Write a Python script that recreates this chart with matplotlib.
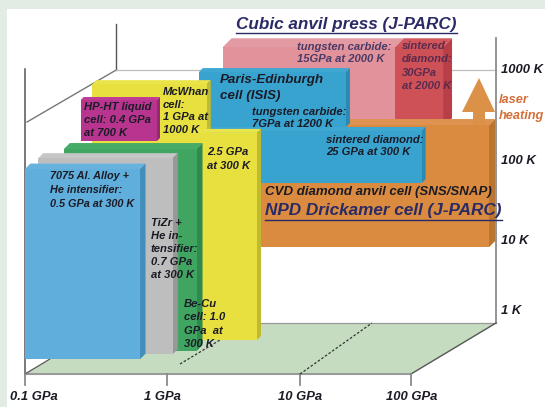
import numpy as np
import matplotlib
matplotlib.use("Agg")
import matplotlib.pyplot as plt
from matplotlib.patches import Polygon, Rectangle

# ---------- values ----------
pressure_ticks = [0.1, 1, 10, 100]
pressure_labels = ["0.1 GPa", "1 GPa", "10 GPa", "100 GPa"]
temperature_ticks = [1, 10, 100, 1000]
temperature_labels = ["1 K", "10 K", "100 K", "1000 K"]

cell_names = ["pink_wc", "red_sd", "orange_cvd", "blue_sd", "blue_pe", "yellow_mcwhan",
              "magenta_hpht", "yellow_becu", "green_becu", "gray_tizr", "blue_7075"]
p_low = [0.665, 13.5, 0.88, 0.507, 0.52, 0.099, 0.094, 0.578, 0.101, 0.0724, 0.0669]
p_high = [13.5, 36.4, 94.5, 26.4, 6.34, 0.633, 0.324, 1.78, 0.868, 0.642, 0.433]
t_low = [226, 226, 8.5, 54, 260, 1, 219, 1, 1, 1, 1]
t_high = [2000, 2000, 239, 224, 1168, 900, 671, 286, 249, 211, 180]

# ---------- layout and style ----------
depths = [0.95, 0.95, 0.95, 0.88, 0.85, 0.80, 0.70, 0.667, 0.45, 0.39, 0.29]
thick = [9, 9, 6, 4, 4, 4, 3, 4, 6, 5, 5.5]
face = ["#E1929B", "#CE5158", "#DA8B3F", "#38A3CF", "#38A3CF", "#E7E03E", "#B7358E",
        "#E7E03E", "#3FA560", "#BEBEBE", "#60AEDB"]
side = ["#C97F88", "#B83F48", "#B87630", "#2A8BB2", "#2A8BB2", "#BFBA30", "#932A72",
        "#BFBA30", "#2F8A4E", "#989898", "#438FBB"]
top = ["#E39AA2", "#D2565C", "#DE9350", "#3EA8D3", "#3EA8D3", "#EAE44A", "#BE3E95",
       "#EAE44A", "#45AB66", "#C6C6C6", "#68B3DE"]

PX = [25, 167, 300, 411]      # front-edge position of the pressure ticks
FLOOR_FRONT, DECADE = 374, 84.3
SHIFT_X, SHIFT_Y = 85, 51
INK = "#1B1B26"
FONT = ["Liberation Sans", "DejaVu Sans"]


def front_x(p):
    lp = np.log10(p)
    logs = np.log10(pressure_ticks)
    if lp <= logs[0]:
        return PX[0] + (lp - logs[0]) * (PX[1] - PX[0])
    return float(np.interp(lp, logs, PX))


def proj(p, t, d=0.0):
    return front_x(p) + SHIFT_X * d, FLOOR_FRONT - SHIFT_Y * d - DECADE * np.log10(t)


fig = plt.figure(figsize=(5.45, 4.07), dpi=100, facecolor="#E3EBE5")
ax = fig.add_axes([0, 0, 1, 1])
ax.set_xlim(0, 545)
ax.set_ylim(407, 0)
ax.axis("off")
ax.add_patch(Rectangle((7, 9), 538, 398, fc="white", ec="none", zorder=0))

# floor
fl, fr = pressure_ticks[0], pressure_ticks[-1]
x0f, y0f = proj(fl, 1, 0)
x1f, y1f = proj(fr, 1, 0)
x1b, y1b = proj(fr, 1, 1)
x0b, y0b = proj(fl, 1, 1)
x0b += 6
ax.add_patch(Polygon([(x0f, y0f), (x1f, y1f), (x1b, y1b), (x0b, y0b)],
                     fc="#C6DCC0", ec="none", zorder=1))

# frame
top_y = proj(fl, temperature_ticks[-1], 1)[1]
ax.plot([x0f, x0f], [y0f, 69], color="#555555", lw=1.1, zorder=1.5)
ax.plot([x0b, x0b], [top_y, 24], color="#555555", lw=1.0, zorder=1.5)
ax.plot([x0b, 27], [top_y, 122], color="#777777", lw=1.0, zorder=1.5)
ax.plot([x0b, x1b], [top_y, top_y], color="#BDBDBD", lw=0.9, zorder=1.5)
ax.plot([x1b, x1b], [y1b, 38], color="#8C8C8C", lw=1.3, zorder=1.5)
ax.plot([x0b, x1b], [y1b, y1b], color="#999999", lw=0.9, zorder=1.5)
ax.plot([x0f, x1f], [y0f, y0f], color="#9A9A9A", lw=1.5, zorder=1.6)
ax.plot([x0f, x0b - 66], [y0f, y0f - 15], color="#555555", lw=0.9, zorder=1.6)
ax.plot([x1f, x1b], [y1f, y1b], color="#555555", lw=1.0, zorder=1.6)
for p in pressure_ticks:
    xt = proj(p, 1, 0)[0]
    ax.plot([xt, xt], [y0f, y0f + 11], color="#8A8A8A", lw=1.3, zorder=1.6)

# boxes
for i, name in enumerate(cell_names):
    xa, yb = proj(p_low[i], t_low[i], depths[i])
    xc, yt = proj(p_high[i], t_high[i], depths[i])
    s = thick[i]
    z = 2 + i * 0.1
    ax.add_patch(Polygon([(xa, yt), (xc, yt), (xc + s, yt - s), (xa + s, yt - s)],
                         fc=top[i], ec="none", zorder=z))
    ax.add_patch(Polygon([(xc, yt), (xc + s, yt - s), (xc + s, yb - s), (xc, yb)],
                         fc=side[i], ec="none", zorder=z))
    ax.add_patch(Rectangle((xa, yt), xc - xa, yb - yt, fc=face[i], ec="none", zorder=z))

# dashed guides
ax.plot([180, 220], [364, 340], color="#333333", lw=0.9, ls=(0, (2, 1.5)), zorder=4)
xd = proj(10, 1, 0)[0]
ax.plot([xd, xd + 72], [y0f, y1b], color="#333333", lw=0.9, ls=(0, (2, 1.5)), zorder=1.7)

# laser heating arrow
ax.add_patch(Polygon([(462, 112), (479, 78), (495, 112), (485, 112), (485, 125),
                      (473, 125), (473, 112)], fc="#DB9148", ec="none", zorder=3.8))


def label(x, y, s, size=8.1, color=INK, ha="left", ls=1.4):
    return ax.text(x, y, s, fontsize=size, color=color, ha=ha, va="center",
                   family=FONT, weight="bold", style="italic", linespacing=ls, zorder=5)


label(50, 190, "7075 Al. Alloy +\nHe intensifier:\n0.5 GPa at 300 K", size=7.8, ls=1.5)
label(151, 249, "TiZr +\nHe in-\ntensifier:\n0.7 GPa\nat 300 K")
label(184, 324, "Be-Cu\ncell: 1.0\nGPa  at\n300 K")
label(207, 159, "2.5 GPa\nat 300 K")
label(84, 120, "HP-HT liquid\ncell: 0.4 GPa\nat 700 K")
label(163, 111, "McWhan\ncell:\n1 GPa at\n1000 K", ls=1.36)
label(220, 88, "Paris-Edinburgh\ncell (ISIS)", size=9.6)
label(252, 118, "tungsten carbide:\n7GPa at 1200 K", ls=1.3)
label(326, 146, "sintered diamond:\n25 GPa at 300 K", ls=1.35)
label(297, 53, "tungsten carbide:\n15GPa at 2000 K", color="#4B3A68", ls=1.3)
label(402, 66, "sintered\ndiamond:\n30GPa\nat 2000 K", color="#5A2B4C", ls=1.43)
label(499, 108, "laser\nheating", size=9.2, color="#D4703A", ls=1.44)
label(265, 192, "CVD diamond anvil cell (SNS/SNAP)", size=9.5)

title1 = label(236, 24, "Cubic anvil press (J-PARC)", size=12.3, color="#2A2A66")
title2 = label(265, 211, "NPD Drickamer cell (J-PARC)", size=12.3, color="#2A2A66")
fig.canvas.draw()
rend = fig.canvas.get_renderer()
for t in (title1, title2):
    bb = t.get_window_extent(rend).transformed(ax.transData.inverted())
    yc = (bb.y0 + bb.y1) / 2 + 8.5
    ax.plot([bb.x0, bb.x1], [yc, yc], color="#2A2A66", lw=1.0, zorder=5)

# axis labels
offset = [9, -5, 0, 1]
for p, s, o in zip(pressure_ticks, pressure_labels, offset):
    label(proj(p, 1, 0)[0] + o, 397, s, size=9.4, ha="center")
t_offset = [-12, 2, 7, 0]
for t, s, o in zip(temperature_ticks, temperature_labels, t_offset):
    label(501, proj(fr, t, 1)[1] + o, s, size=9.4)

fig.savefig("out.png", dpi=100, facecolor=fig.get_facecolor())
